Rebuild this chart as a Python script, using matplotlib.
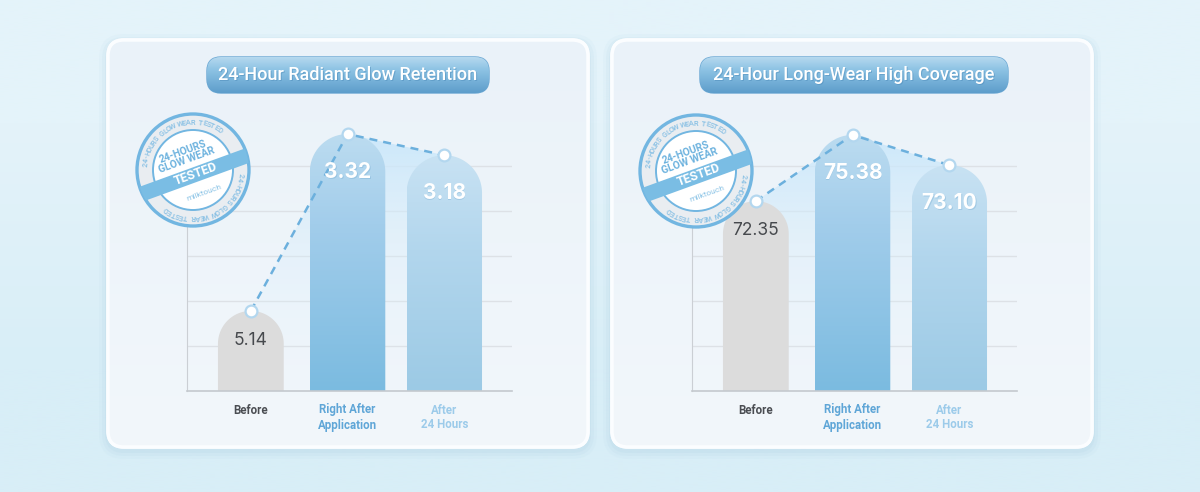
import numpy as np
import matplotlib.pyplot as plt
from matplotlib.patches import FancyBboxPatch, Polygon, Circle
from matplotlib.colors import to_rgba

plt.rcParams['font.family'] = ['Roboto', 'DejaVu Sans']

categories = ["Before", "Right After\nApplication", "After\n24 Hours"]
glow_values = [5.14, 3.32, 3.18]
coverage_values = [72.35, 75.38, 73.10]
# bar heights as drawn in the picture, in gridline units
glow_heights = [1.78, 5.71, 5.24]
coverage_heights = [4.22, 5.69, 5.02]
bar_widths = [0.68, 0.78, 0.78]
titles = ["24-Hour Radiant Glow Retention", "24-Hour Long-Wear High Coverage"]
ring_text = "24-HOURS GLOW WEAR TESTED"
brand = "milktouch"

W, H = 1200, 492
fig = plt.figure(figsize=(12, 4.92), dpi=100)

bg = fig.add_axes([0, 0, 1, 1])
bg.set_xlim(0, W)
bg.set_ylim(H, 0)
bg.axis('off')


def vgrad(ax, patch, extent, stops, zorder):
    # vertical gradient clipped to a patch; stops = [(pos, colour[, alpha]), ...] top->bottom
    n = 256
    t = np.linspace(0, 1, n)
    pos = [s[0] for s in stops]
    cols = np.array([to_rgba(s[1]) if len(s) == 2 else to_rgba(s[1], s[2]) for s in stops])
    arr = np.zeros((n, 1, 4))
    for k in range(4):
        arr[:, 0, k] = np.interp(t, pos, cols[:, k])
    im = ax.imshow(arr, extent=extent, origin='upper', aspect='auto',
                   interpolation='bilinear', zorder=zorder)
    im.set_clip_path(patch)
    return im


# page background
bg.imshow(np.array([[to_rgba('#e4f3fa')], [to_rgba('#d8eef7')]]), extent=(0, W, H, 0),
          origin='upper', aspect='auto', interpolation='bilinear', zorder=0)

card_lefts = [108, 612]
for x0 in card_lefts:
    for pad, a in [(9, 0.05), (6, 0.07), (3, 0.09)]:
        bg.add_patch(FancyBboxPatch((x0, 43), 480, 407,
                                    boxstyle=f"round,pad={pad},rounding_size={16 + pad}",
                                    fc='#8fbfd8', ec='none', alpha=a, zorder=1))
    card = FancyBboxPatch((x0, 40), 480, 407, boxstyle="round,pad=0,rounding_size=16",
                          fc='#eef4fa', ec='#fbfdff', lw=2.5, zorder=2)
    bg.add_patch(card)
    vgrad(bg, card, (x0, x0 + 480, 447, 40),
          [(0, '#eaf2f9'), (1, '#f2f7fb')], zorder=2.1)
    bg.add_patch(FancyBboxPatch((x0, 40), 480, 407, boxstyle="round,pad=0,rounding_size=16",
                                fc='none', ec='#fbfdff', lw=2.5, zorder=2.2))

pills = [(207, 282), (700, 308)]
for (px, pw), title in zip(pills, titles):
    pill = FancyBboxPatch((px, 57), pw, 36, boxstyle="round,pad=0,rounding_size=14",
                          fc='#7ab7df', ec='#6aa7d3', lw=1.0, zorder=3)
    bg.add_patch(pill)
    vgrad(bg, pill, (px, px + pw, 93, 57),
          [(0, '#b6d9ef'), (0.35, '#8dc3e4'), (1, '#5d9dcb')], zorder=3.1)
    bg.text(px + pw / 2 + 0.8, 76, title, color='#4f8dbb', fontsize=13, fontweight='medium',
            ha='center', va='center', zorder=3.15, alpha=0.5)
    bg.text(px + pw / 2, 75, title, color='white', fontsize=13, fontweight='medium',
            ha='center', va='center', zorder=3.2)

# chart areas
ax_w, ax_h = 325, 270
xlim = (-0.66, 2.70)
ylim = (0, 6.0)
px_x = ax_w / (xlim[1] - xlim[0])
px_y = ax_h / (ylim[1] - ylim[0])
label_colors = ['#4a4d52', '#5fa6d7', '#9ccbea']


def chart(left_px, values, heights):
    ax = fig.add_axes([left_px / W, (H - 391) / H, ax_w / W, ax_h / H])
    ax.set_xlim(*xlim)
    ax.set_ylim(*ylim)
    ax.patch.set_alpha(0)
    ax.set_axisbelow(True)
    ax.set_yticks([1, 2, 3, 4, 5])
    ax.yaxis.grid(True, color='#dde1e6', lw=1)
    ax.tick_params(axis='y', length=0, labelleft=False)
    for s in ['top', 'right']:
        ax.spines[s].set_visible(False)
    ax.spines['left'].set_color('#cbcfd4')
    ax.spines['left'].set_bounds(0, 5)
    ax.spines['bottom'].set_color('#c4c9ce')
    ax.spines['bottom'].set_linewidth(1.2)

    x = np.arange(len(values))

    # soft area under the trend line
    area = Polygon([(x[0], heights[0]), (x[1], heights[1]), (x[2], heights[2]),
                    (x[2], 0), (x[0], 0)], closed=True, fc='none', ec='none')
    ax.add_patch(area)
    top = max(heights)
    vgrad(ax, area, (x[0], x[2], 0, top),
          [(0, '#c9e7fb', 0.9), (0.45, '#d5edfb', 0.35), (1, '#e8f4fb', 0.0)], zorder=1.5)

    for i, (h, w) in enumerate(zip(heights, bar_widths)):
        rx = w / 2
        ry = rx * px_x / px_y
        t = np.linspace(np.pi, 0, 60)
        pts = [(x[i] - rx, 0), (x[i] - rx, h - ry)]
        pts += list(zip(x[i] + rx * np.cos(t), h - ry + ry * np.sin(t)))
        pts += [(x[i] + rx, h - ry), (x[i] + rx, 0)]
        if i == 0:
            ax.add_patch(Polygon(pts, closed=True, fc='#dcdcdc', ec='none', zorder=2))
        else:
            bar = Polygon(pts, closed=True, fc='none', ec='none', zorder=2)
            ax.add_patch(bar)
            if i == 1:
                stops = [(0, '#bcdcf0'), (0.35, '#a2cdeb'), (1, '#7bbbe0')]
            else:
                stops = [(0, '#c8e2f3'), (0.4, '#b2d6ed'), (1, '#9ccae5')]
            vgrad(ax, bar, (x[i] - rx, x[i] + rx, 0, h), stops, zorder=2)

    ax.plot(x, heights, ls=(0, (3.2, 2.4)), color='#6cb0dd', lw=1.8, zorder=3, clip_on=False)
    ax.plot(x, heights, ls='none', marker='o', ms=8.5, mfc='white', mec='#b3d7ef', mew=1.6,
            zorder=4, clip_on=False)

    for i, (v, h) in enumerate(zip(values, heights)):
        if i == 0:
            ax.annotate(f"{v:.2f}", (x[i], h), xytext=(0, -21), textcoords='offset points',
                        ha='center', va='center', fontsize=12.5, color='#46494d',
                        family=['Inter', 'DejaVu Sans'], zorder=5)
        else:
            ax.annotate(f"{v:.2f}", (x[i], h), xytext=(0.5, -28.2), textcoords='offset points',
                        ha='center', va='center', fontsize=15, fontweight='bold',
                        color='#7fb3d6', alpha=0.45, family=['Inter', 'DejaVu Sans'], zorder=5)
            ax.annotate(f"{v:.2f}", (x[i], h), xytext=(0, -27.5), textcoords='offset points',
                        ha='center', va='center', fontsize=15, fontweight='bold',
                        color='white', family=['Inter', 'DejaVu Sans'], zorder=5)

    ax.set_xticks(x)
    ax.set_xticklabels(categories, fontsize=8.3, fontweight='bold', linespacing=1.2)
    for lab, c in zip(ax.get_xticklabels(), label_colors):
        lab.set_color(c)
    ax.tick_params(axis='x', length=0, pad=9)
    return ax


chart(187, glow_values, glow_heights)
chart(692, coverage_values, coverage_heights)

# "tested" stamps on top
ov = fig.add_axes([0, 0, 1, 1])
ov.set_xlim(0, W)
ov.set_ylim(H, 0)
ov.axis('off')
ov.patch.set_alpha(0)

ang = np.deg2rad(20)
along = np.array([np.cos(ang), -np.sin(ang)])
perp = np.array([np.sin(ang), np.cos(ang)])
stamp_blue = '#72b6e1'


def stamp(cx, cy, R=56):
    c = np.array([cx, cy])
    outer = Circle((cx, cy), R, fc='#e9edf1', ec=stamp_blue, lw=2.4, zorder=10)
    ov.add_patch(outer)
    ov.add_patch(Circle((cx, cy), R - 16, fc='white', ec=stamp_blue, lw=1.4, zorder=11))
    # ring text running clockwise, two copies half a turn apart
    step = 4.9
    for start in (174, -6):
        for k, ch in enumerate(ring_text):
            th = np.deg2rad(start - k * step)
            r = R - 8.5
            ov.text(cx + r * np.cos(th), cy - r * np.sin(th), ch, fontsize=5.4,
                    color='#86bfe4', fontweight='medium', ha='center', va='center',
                    rotation=np.rad2deg(th) - 90, rotation_mode='anchor', zorder=12)
    # diagonal band
    bc = c + perp * 5 + along * 1
    L, Wb = R + 5, 7.5
    corners = [bc - along * L - perp * Wb, bc + along * L - perp * Wb,
               bc + along * L + perp * Wb, bc - along * L + perp * Wb]
    band = Polygon(corners, closed=True, fc='#7abde4', ec='none', zorder=13)
    ov.add_patch(band)
    band.set_clip_path(outer)
    ov.text(*bc, "TESTED", fontsize=9, fontweight='bold', color='white', ha='center',
            va='center', rotation=20, rotation_mode='anchor', zorder=14)
    tc = c - perp * 16 - along * 3
    ov.text(*tc, "24-HOURS\nGLOW WEAR", fontsize=7.4, fontweight='bold', color='#6cb2de',
            ha='center', va='center', rotation=20, rotation_mode='anchor',
            linespacing=0.95, zorder=14)
    mc = c + perp * 25 + along * 3
    ov.text(*mc, brand, fontsize=6, color='#8cc4e6', ha='center', va='center',
            rotation=20, rotation_mode='anchor', zorder=14)


stamp(193, 170)
stamp(696, 171)

fig.savefig('out.png', dpi=100)
